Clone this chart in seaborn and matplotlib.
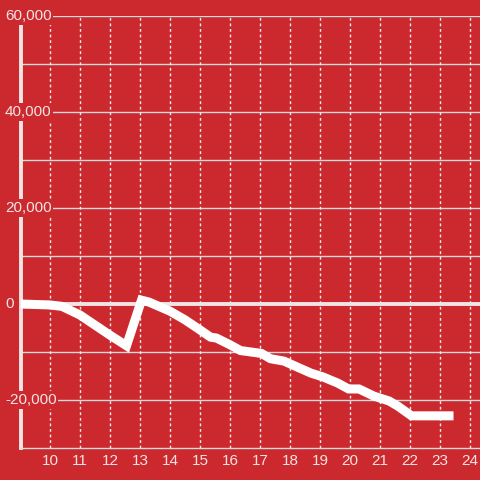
import pandas as pd
import matplotlib
matplotlib.use("Agg")
import matplotlib.pyplot as plt
import seaborn as sns

# values
hours = [9.0, 10.0, 10.4, 11.0, 11.5, 12.0, 12.55, 13.05, 13.3, 14.0, 14.5, 15.0,
         15.35, 15.55, 16.0, 16.35, 17.05, 17.35, 17.8, 18.3, 18.7, 19.1, 19.6,
         19.95, 20.3, 20.8, 21.3, 21.6, 22.05, 22.5, 23.45]
values = [0, -200, -500, -2300, -4400, -6500, -8700, 800, 400, -1500, -3300, -5400,
          -6900, -7100, -8500, -9700, -10300, -11400, -11900, -13300, -14400, -15200,
          -16500, -17700, -17700, -19200, -20200, -21300, -23300, -23300, -23300]
y_labels = [60000, 40000, 20000, 0, -20000]
y_grid = [60000, 50000, 40000, 30000, 20000, 10000, -10000, -20000]
x_ticks = list(range(10, 25))

bg = "#cc292e"
fg = "#f3e4e4"

df = pd.DataFrame({"hour": hours, "value": values})

sns.set_style("white")
plt.rcParams["font.family"] = ["Liberation Sans", "DejaVu Sans"]

fig = plt.figure(figsize=(4.8, 4.8), dpi=100, facecolor=bg)
ax = fig.add_axes([21 / 480, 32 / 480, 459 / 480, 432 / 480])
ax.set_facecolor(bg)

ax.set_xlim(9.033, 24.333)
ax.set_ylim(-30000, 60000)

# grid
for y in y_grid:
    ax.axhline(y, color="#d9d9d9", lw=1, zorder=1)
for x in x_ticks:
    ax.axvline(x, color="#eeeeee", lw=1, ls=(0, (2, 2)), zorder=1)
ax.axhline(0, color=fg, lw=2.8, zorder=2)

sns.lineplot(data=df, x="hour", y="value", ax=ax, color="white", lw=6.5,
             solid_joinstyle="miter", solid_capstyle="butt", zorder=3)

# axes styling
for s in ["top", "right"]:
    ax.spines[s].set_visible(False)
ax.spines["left"].set_color(fg)
ax.spines["left"].set_linewidth(2.8)
ax.spines["bottom"].set_color("#d9d9d9")
ax.spines["bottom"].set_linewidth(1)

ax.set_xticks(x_ticks)
ax.set_xticklabels([str(t) for t in x_ticks])
ax.tick_params(axis="x", length=0, pad=4, labelsize=11, labelcolor=fg)
ax.set_yticks([])
ax.set_xlabel("")
ax.set_ylabel("")

for y in y_labels:
    fig.text(5 / 480, ax.transData.transform((0, y))[1] / 480, f"{y:,}",
             ha="left", va="center", fontsize=11, color=fg, zorder=6,
             bbox=dict(facecolor=bg, edgecolor="none", pad=1.2))

fig.savefig("out.png", dpi=100, facecolor=bg)
